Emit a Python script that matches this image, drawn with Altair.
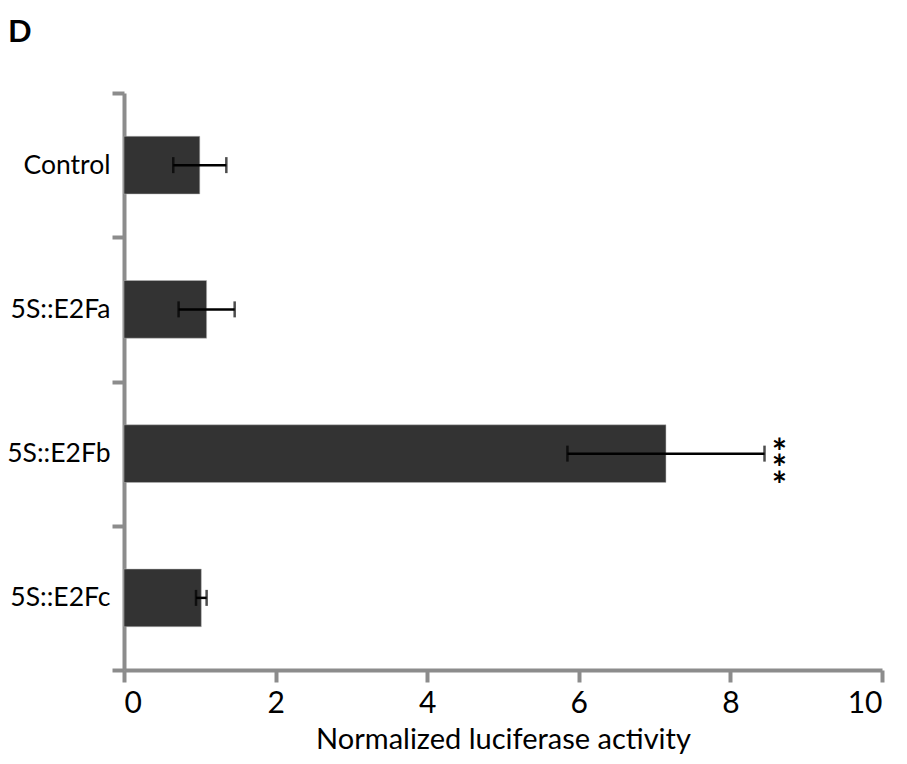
import altair as alt
import pandas as pd

categories = ["Control", "5S::E2Fa", "5S::E2Fb", "5S::E2Fc"]
values = [1.0, 1.09, 7.15, 1.02]
errors = [0.35, 0.37, 1.30, 0.07]
signif = ["", "", "*|*|*", ""]
panel_label = ["D"]

df = pd.DataFrame({
    "cat": categories,
    "val": values,
    "lo": [v - e for v, e in zip(values, errors)],
    "hi": [v + e for v, e in zip(values, errors)],
    "sig": signif,
})

FONT = "Lato"
AXIS_GRAY = "#8c8c8c"

y_scale = alt.Scale(paddingInner=0, paddingOuter=0)

y_enc = alt.Y("cat:N", sort=categories, title=None, scale=y_scale,
              axis=alt.Axis(tickBand="extent", domainColor=AXIS_GRAY, domainWidth=4,
                            tickColor=AXIS_GRAY, tickWidth=4, tickSize=12,
                            labelPadding=2, labelFont=FONT, labelFontSize=26.5,
                            labelColor="black", labelLimit=300))

x_scale = alt.Scale(domain=[0, 10], nice=False)

bars = alt.Chart(df).mark_bar(color="#333333", stroke="#bbbbbb", strokeWidth=0.5,
                              height={"band": 0.4}).encode(
    y=y_enc,
    x=alt.X("val:Q", scale=x_scale, title="Normalized luciferase activity",
            axis=alt.Axis(values=[0, 2, 4, 6, 8, 10], format="d", grid=False,
                          domainColor=AXIS_GRAY, domainWidth=4, tickColor=AXIS_GRAY,
                          tickWidth=4, tickSize=12, labelPadding=6, labelFont=FONT,
                          labelFontSize=30, labelColor="black",
                          titleFont=FONT, titleFontSize=29, titleFontWeight="normal",
                          titleColor="black", titlePadding=7)),
)

yb = alt.Y("cat:N", sort=categories, scale=y_scale)

rule = alt.Chart(df).mark_rule(color="black", strokeWidth=2.5).encode(
    y=yb, x=alt.X("lo:Q", scale=x_scale), x2="hi:Q",
)

cap_lo = alt.Chart(df).mark_tick(color="black", thickness=2.5, size=16).encode(
    y=yb, x=alt.X("lo:Q", scale=x_scale),
)
cap_hi = alt.Chart(df).mark_tick(color="black", thickness=2.5, size=16).encode(
    y=yb, x=alt.X("hi:Q", scale=x_scale),
)

stars = alt.Chart(df).mark_text(font=FONT, fontSize=36, fontWeight="bold", color="black",
                                lineBreak="|", lineHeight=16.5, align="center",
                                baseline="middle", dx=15, dy=0).encode(
    y=yb, x=alt.X("hi:Q", scale=x_scale), text="sig:N",
)

label_df = pd.DataFrame({"t": panel_label})
panel = alt.Chart(label_df).mark_text(font=FONT, fontSize=31, fontWeight="bold",
                                      color="black", align="left",
                                      baseline="alphabetic").encode(
    x=alt.value(-116), y=alt.value(-51), text="t:N",
)

chart = alt.layer(bars, rule, cap_lo, cap_hi, stars, panel).properties(
    width=758, height=577,
    autosize=alt.AutoSizeParams(type="none"),
    padding={"left": 116, "top": 85, "right": 17, "bottom": 86},
).configure_view(stroke=None)

chart.save("out.html", embed_options={"renderer": "svg", "actions": False})
